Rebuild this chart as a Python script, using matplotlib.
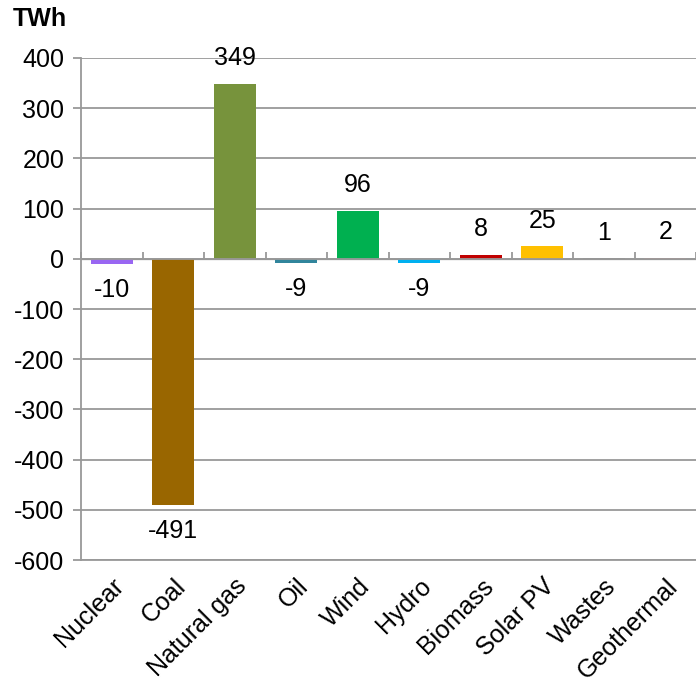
import matplotlib.pyplot as plt
import numpy as np

plt.rcParams['font.family'] = ['Liberation Sans', 'DejaVu Sans']
plt.rcParams['axes.unicode_minus'] = False

# change in generation by source, TWh
sources = ['Nuclear', 'Coal', 'Natural gas', 'Oil', 'Wind', 'Hydro',
           'Biomass', 'Solar PV', 'Wastes', 'Geothermal']
change = [-10, -491, 349, -9, 96, -9, 8, 25, 1, 2]
colors = ['#9966F2', '#996600', '#77933C', '#31859C', '#00B050', '#00B0F0',
          '#C00000', '#FFC000', '#7F7F7F', '#D99694']

grey = '#999999'
fs = 18

fig = plt.figure(figsize=(6.96, 6.83), dpi=100)
ax = fig.add_axes([0.1164, 0.180, 0.8836, 0.7351])

x = np.arange(len(sources))
bars = ax.bar(x, change, width=0.68, color=colors, zorder=3)

# value labels above positive bars, below negative ones
for b, v in zip(bars, change):
    off = 18.5 if v >= 0 else -18.5
    ax.annotate(str(v), (b.get_x() + b.get_width() / 2, v),
                xytext=(0, off), textcoords='offset points',
                ha='center', va='center', fontsize=fs)

ax.set_xlim(-0.5, len(sources) - 0.5)
ax.set_ylim(-600, 400)
ax.set_yticks(range(-600, 401, 100))
ax.grid(axis='y', color=grey, linewidth=1.3, zorder=0)
ax.set_axisbelow(True)

for s in ['top', 'right']:
    ax.spines[s].set_visible(False)
for s in ['left', 'bottom']:
    ax.spines[s].set_color(grey)
    ax.spines[s].set_linewidth(1.3)

ax.tick_params(axis='y', length=6, width=1.3, color=grey, labelsize=fs, pad=6)
ax.set_xticks(x)
ax.set_xticklabels(sources, rotation=45, ha='right', rotation_mode='anchor',
                   fontsize=fs)
ax.tick_params(axis='x', length=0, pad=10)

# zero line with category separators
zero = ax.secondary_xaxis(0.6)
zero.spines['bottom'].set_color(grey)
zero.spines['bottom'].set_linewidth(1.3)
zero.set_xticks(np.arange(-0.5, len(sources), 1.0))
zero.set_xticklabels([])
zero.tick_params(axis='x', length=5, width=1.3, color=grey, direction='out')
ax.axhline(0, color=grey, linewidth=1.3, zorder=4)

fig.text(0.018, 0.972, 'TWh', fontsize=fs, fontweight='bold',
         ha='left', va='center')

fig.savefig('out.png', dpi=100)
